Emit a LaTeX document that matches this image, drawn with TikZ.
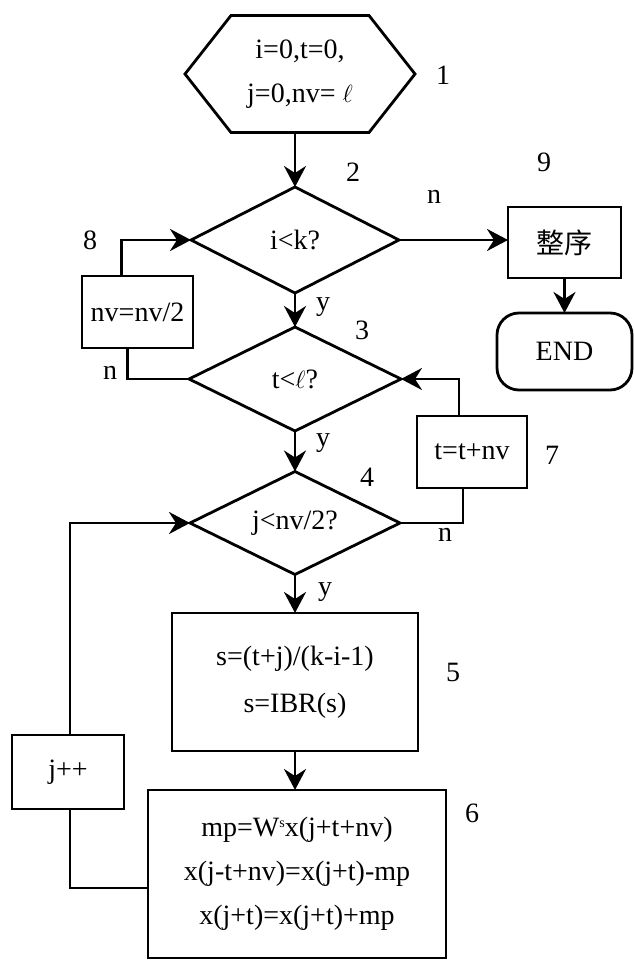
\documentclass[tikz,border=0pt]{standalone}
\usepackage{fontspec}
\setmainfont{Liberation Serif}
\newfontfamily\cjk{Noto Sans CJK SC}
\usetikzlibrary{shapes.geometric,arrows.meta,calc}
\begin{document}
\begin{tikzpicture}[x=1pt,y=-1pt,
  every node/.style={font=\fontsize{28}{44}\selectfont, inner sep=0pt, outer sep=0pt},
  ln/.style={line width=2.8pt},
  arr/.style={ln, -{Stealth[length=21pt,width=22pt,inset=7pt]}},
  procbox/.style={draw, ln, rectangle, align=center},
  decision/.style={draw, ln, diamond, aspect=2},
  endbox/.style={draw, ln, rectangle, rounded corners=22pt, align=center}]
\useasboundingbox (0,0) rectangle (633,960);

% start hexagon
\node[minimum width=230pt, minimum height=117pt, align=center] (start) at (300,74) {i=0,t=0,\\j=0,nv= $\ell$};
\draw[ln] ($(start.north west)+(46,0)$) -- ($(start.north east)+(-46,0)$) -- (start.east)
  -- ($(start.south east)+(-46,0)$) -- ($(start.south west)+(46,0)$) -- (start.west) -- cycle;

% decisions
\node[decision, minimum width=208pt, minimum height=106pt] (d2) at (295,240) {i<k?};
\node[decision, minimum width=212pt, minimum height=104pt] (d3) at (295,379) {t<$\ell$?};
\node[decision, minimum width=210pt, minimum height=103pt] (d4) at (295,523) {j<nv/2?};

% boxes
\node[procbox, minimum width=113pt, minimum height=71pt] (b9) at (564.5,242.5) {\cjk 整序};
\node[endbox, minimum width=135pt, minimum height=77pt] (end) at (564.5,351.5) {END};
\node[procbox, minimum width=111pt, minimum height=72pt] (b8) at (137.5,312) {nv=nv/2};
\node[procbox, minimum width=110pt, minimum height=72pt] (b7) at (472,452) {t=t+nv};
\node[procbox, minimum width=246pt, minimum height=138pt, font=\fontsize{28}{47}\selectfont] (b5) at (295,682) {s=(t+j)/(k-i-1)\\s=IBR(s)};
\node[procbox, minimum width=298pt, minimum height=168pt] (b6) at (297,874) {mp=W\raisebox{0.7ex}{\fontsize{14}{14}\selectfont s}x(j+t+nv)\\x(j-t+nv)=x(j+t)-mp\\x(j+t)=x(j+t)+mp};
\node[procbox, minimum width=112pt, minimum height=74pt] (bj) at (68,772) {j++};

% connectors
\draw[arr] (d2.north |- start.south) -- (d2.north);
\draw[arr] (d2.east) -- (d2.east -| b9.west);
\draw[arr] (b9.south) -- (end.north);
\draw[arr] (d2.south) -- (d3.north);
\draw[ln] (d3.west) -| ([xshift=-10pt]b8.south);
\draw[arr] ([xshift=-16pt]b8.north) |- (d2.west);
\draw[arr] (d3.south) -- (d4.north);
\draw[ln] (d4.east) -| ([xshift=-9pt]b7.south);
\draw[arr] ([xshift=-13pt]b7.north) |- (d3.east);
\draw[arr] (d4.south) -- (b5.north);
\draw[arr] (b5.south) -- (b5.south |- b6.north);
\draw[ln] ([yshift=-14pt]b6.west) -| ([xshift=2pt]bj.south);
\draw[arr] ([xshift=2pt]bj.north) |- (d4.west);

% labels
\node (l1) at (443,75) {1};
\node (l2) at (353,172) {2};
\node (l9) at (544,162) {9};
\node (l8) at (90,240) {8};
\node (l3) at (362,330) {3};
\node (l7) at (552,455) {7};
\node (l4) at (367,477) {4};
\node (l5) at (453,672) {5};
\node (l6) at (472,813) {6};
\node (n2) at (434,197) {n};
\node (n3) at (110,373) {n};
\node (n4) at (445,535) {n};
\node (y2) at (323,307) {y};
\node (y3) at (323,443) {y};
\node (y4) at (325,592) {y};
\end{tikzpicture}
\end{document}
